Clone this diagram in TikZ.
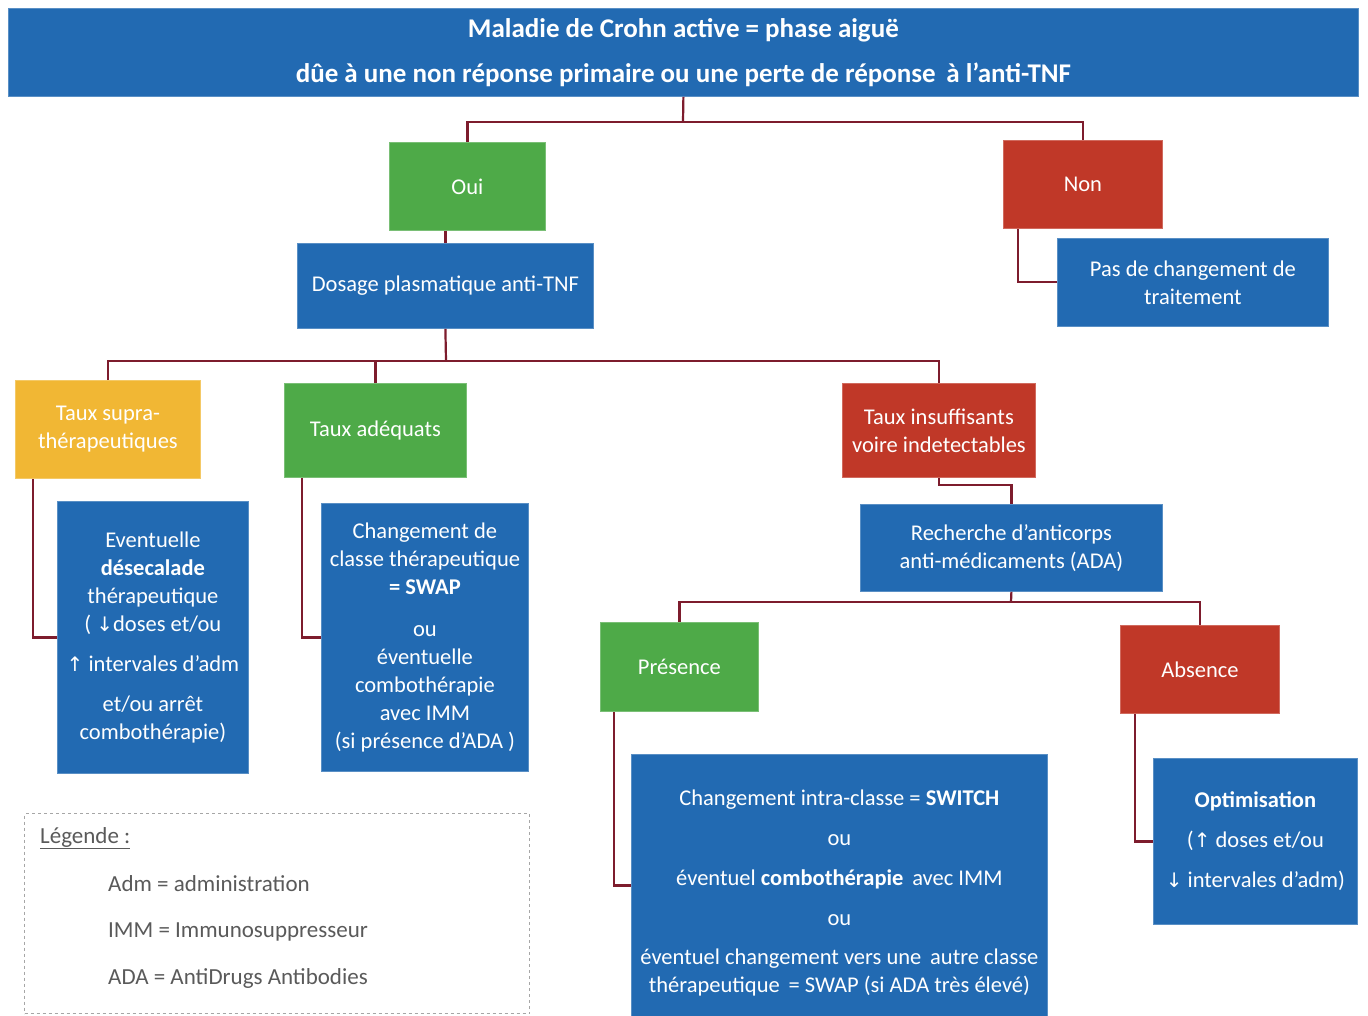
\documentclass[tikz,border=0pt]{standalone}
\usepackage{fontspec}
\setmainfont{Carlito}
\newfontfamily\arrowfont{DejaVu Sans}
\usetikzlibrary{calc}
\definecolor{cblue}{RGB}{34,106,178}
\definecolor{cgreen}{RGB}{78,170,72}
\definecolor{cred}{RGB}{192,56,40}
\definecolor{cyellow}{RGB}{241,183,52}
\definecolor{cline}{RGB}{125,28,45}
\definecolor{cgray}{RGB}{90,90,90}
\newcommand{\myup}{{\arrowfont\fontsize{20}{20}\selectfont ↑}}
\newcommand{\mydown}{{\arrowfont\fontsize{20}{20}\selectfont ↓}}
\begin{document}
\begin{tikzpicture}[x=1pt,y=-1pt,
  box/.style={fill=#1, draw=#1!75!white, line width=0.8pt, text=white, align=center,
    inner sep=2pt, anchor=north west, font=\fontsize{22.5}{28}\selectfont},
  conn/.style={draw=cline, line width=2.2pt},
  legtext/.style={anchor=west, text=cgray, font=\fontsize{23}{26}\selectfont, inner sep=0pt}
]
\useasboundingbox[fill=white] (0,0) rectangle (1368,1016);

% title
\node[box=cblue, minimum width=1350pt, minimum height=88pt,
  font=\bfseries\fontsize{27}{45}\selectfont] (title) at (8,8)
  {Maladie de Crohn active = phase aiguë\\dûe à une non réponse primaire ou une perte de réponse \,à l'anti-TNF};

% level 1
\node[box=cgreen, minimum width=156pt, minimum height=88pt] (oui) at (389,142) {Oui};
\node[box=cred, minimum width=159pt, minimum height=88pt] (non) at (1003,140) {Non};
\node[box=cblue, minimum width=296pt, minimum height=85pt] (dosage) at (297,243) {Dosage plasmatique anti-TNF};
\node[box=cblue, minimum width=271pt, minimum height=88pt] (pas) at (1057,238) {Pas de changement de\\traitement};

% level 2
\node[box=cyellow, minimum width=185pt, minimum height=98pt] (supra) at (15,380) {Taux supra-\\thérapeutiques};
\node[box=cgreen, minimum width=182pt, minimum height=94pt] (adeq) at (284,383) {Taux adéquats};
\node[box=cred, minimum width=193pt, minimum height=94pt] (insuf) at (842,383) {Taux insuffisants\\voire indetectables};

\node[box=cblue, minimum width=191pt, minimum height=272pt] (ev) at (57,501)
  {Eventuelle\\\textbf{désecalade}\\thérapeutique\\( \mydown doses et/ou\\[12pt]\myup\ intervales d'adm\\[12pt]et/ou arrêt\\combothérapie)};
\node[box=cblue, minimum width=207pt, minimum height=268pt] (chg) at (321,503)
  {Changement de\\classe thérapeutique\\\textbf{= SWAP}\\[14pt]ou\\éventuelle\\combothérapie\\avec IMM\\(si présence d'ADA )};

\node[box=cblue, minimum width=302pt, minimum height=87pt] (rech) at (860,504)
  {Recherche d'anticorps\\anti-médicaments (ADA)};

% level 3
\node[box=cgreen, minimum width=158pt, minimum height=89pt] (pres) at (600,622) {Présence};
\node[box=cred, minimum width=159pt, minimum height=88pt] (abs) at (1120,625) {Absence};

\node[box=cblue, minimum width=416pt, minimum height=262pt] (intra) at (631,754)
  {\rule{0pt}{30pt}Changement intra-classe = \textbf{SWITCH}\\[12pt]ou\\[12pt]éventuel \textbf{combothérapie} \,avec IMM\\[12pt]ou\\[11pt]éventuel changement vers une \,autre classe\\thérapeutique \,= SWAP (si ADA très élevé)};
\node[box=cblue, minimum width=204pt, minimum height=166pt,
  font=\fontsize{22.5}{40}\selectfont] (opt) at (1153,758)
  {\textbf{Optimisation}\\(\myup\ doses et/ou\\\mydown\ intervales d'adm)};

% legend
\node[draw=gray!70, dashed, line width=1pt, minimum width=505pt, minimum height=200pt,
  anchor=north west, inner sep=0pt] (leg) at (24,813) {};
\node[legtext] (legtitle) at (40,838) {\underline{Légende :}};
\node[legtext] (leg1) at (108,884) {Adm = administration};
\node[legtext] (leg2) at (108,932) {IMM = Immunosuppresseur};
\node[legtext] (leg3) at (108,978) {ADA = AntiDrugs Antibodies};

% connectors
\coordinate (j1) at (683,122);
\draw[conn] (title.south) -- (j1);
\draw[conn] (oui.north) -- ++(0,-20) -| (non.north);
\draw[conn] (oui.south -| dosage.north) -- (dosage.north);
\draw[conn] (pas.west) -| ($(non.south west)+(15,0)$);

\coordinate (j2) at (446,361);
\draw[conn] (dosage.south) -- (j2);
\draw[conn] (supra.north) -- ++(0,-19) -| (insuf.north);
\draw[conn] (adeq.north) -- (adeq.north |- j2);
\draw[conn] (ev.west) -| ($(supra.south west)+(18,0)$);
\draw[conn] (chg.west) -| ($(adeq.south west)+(18,0)$);
\draw[conn] (insuf.south) -- ++(0,7) -| (rech.north);

\coordinate (j3) at (1011,602);
\draw[conn] (rech.south) -- (j3);
\draw[conn] (pres.north) -- ++(0,-20) -| (abs.north);
\draw[conn] (intra.west) -| ($(pres.south west)+(14,0)$);
\draw[conn] (opt.west) -| ($(abs.south west)+(15,0)$);
\end{tikzpicture}
\end{document}
